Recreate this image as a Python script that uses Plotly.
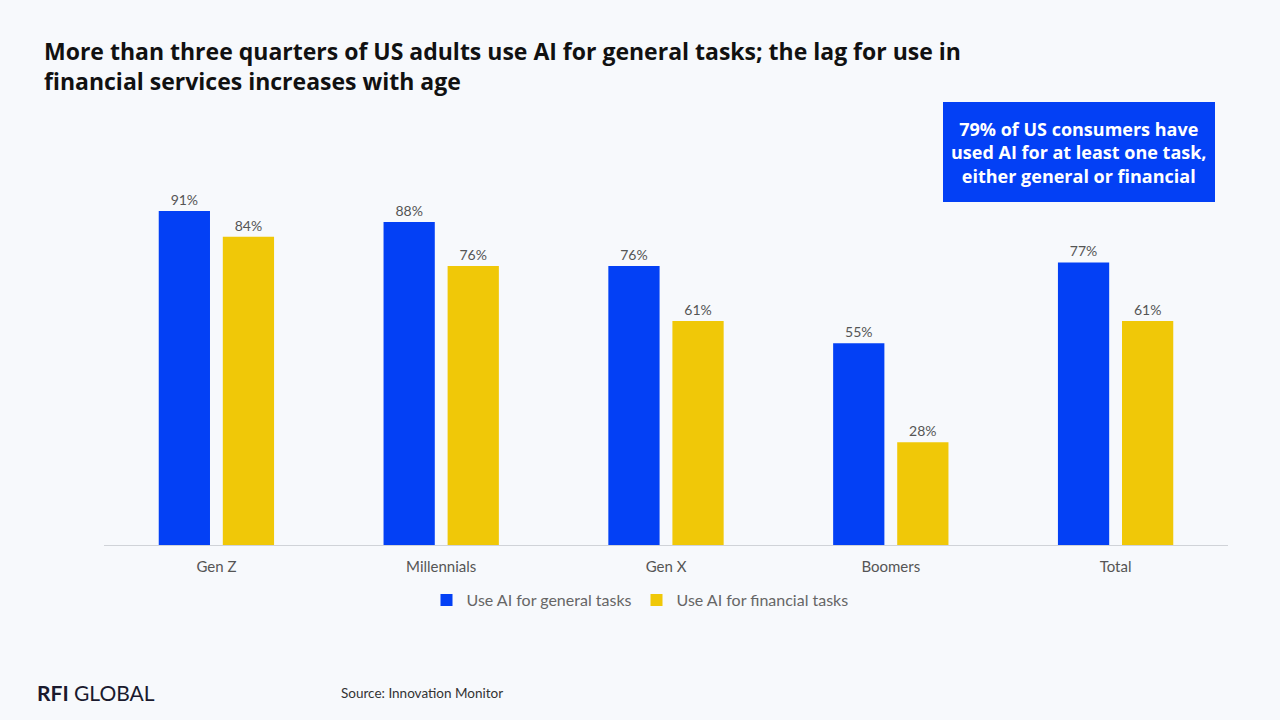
import plotly.graph_objects as go

categories = ["Gen Z", "Millennials", "Gen X", "Boomers", "Total"]
general = [91, 88, 76, 55, 77]
financial = [84, 76, 61, 28, 61]
series_names = ["Use AI for general tasks", "Use AI for financial tasks"]

BLUE = "#0340F5"
YELLOW = "#F0C808"
BG = "#F7F9FC"
FONT = "Lato, Open Sans, sans-serif"
TFONT = "Open Sans, sans-serif"

W, H = 1280, 720
def px(x): return x / W
def py(y): return 1 - y / H

fig = go.Figure()
for name, vals, col in [(series_names[0], general, BLUE), (series_names[1], financial, YELLOW)]:
    fig.add_trace(go.Bar(
        x=categories, y=vals, name=name, marker=dict(color=col, line=dict(width=0)),
        text=[f"{v}%" for v in vals], textposition="outside", cliponaxis=False,
        textfont=dict(family=FONT, size=14, color="#555555"),
    ))

fig.update_layout(
    width=W, height=H,
    paper_bgcolor=BG, plot_bgcolor=BG,
    margin=dict(l=0, r=0, t=0, b=0),
    barmode="group", bargap=0.43, bargroupgap=0.2,
    font=dict(family=FONT, color="#555555"),
    showlegend=True,
    legend=dict(orientation="h", x=0.5, xanchor="center", y=py(583), yanchor="top",
                font=dict(size=16, color="#666666"), bgcolor="rgba(0,0,0,0)",
                itemwidth=30, traceorder="normal"),
    xaxis=dict(domain=[px(104), px(1228)], showline=True, linecolor="#D0D3D8", linewidth=1, ticks="",
               tickfont=dict(size=15, color="#555555"), showgrid=False, ticklabelstandoff=8),
    yaxis=dict(domain=[py(545), py(120)], range=[0, 115.8], visible=False, showgrid=False, zeroline=False),
)

fig.add_annotation(xref="paper", yref="paper", x=px(42), y=py(66), xanchor="left", yanchor="middle",
                   text="<b>More than three quarters of US adults use AI for general tasks; the lag for use in<br>financial services increases with age</b>",
                   align="left", showarrow=False, font=dict(family=TFONT, size=23, color="#111111"))

fig.add_shape(type="rect", xref="paper", yref="paper", x0=px(943), x1=px(1215),
              y0=py(202), y1=py(102), fillcolor=BLUE, line=dict(width=0), layer="above")
fig.add_annotation(xref="paper", yref="paper", x=px(1079), y=py(152), xanchor="center", yanchor="middle",
                   text="<b>79% of US consumers have<br>used AI for at least one task,<br>either general or financial</b>",
                   align="center", showarrow=False, font=dict(family=TFONT, size=18, color="white"))

fig.add_annotation(xref="paper", yref="paper", x=px(35), y=py(692), xanchor="left", yanchor="middle",
                   text="<b>RFI</b> GLOBAL", showarrow=False, font=dict(family=FONT, size=21, color="#1a1a2e"))
fig.add_annotation(xref="paper", yref="paper", x=px(339), y=py(693), xanchor="left", yanchor="middle",
                   text="Source: Innovation Monitor", showarrow=False, font=dict(family=FONT, size=13.5, color="#333333"))

fig.write_html("out.html")
